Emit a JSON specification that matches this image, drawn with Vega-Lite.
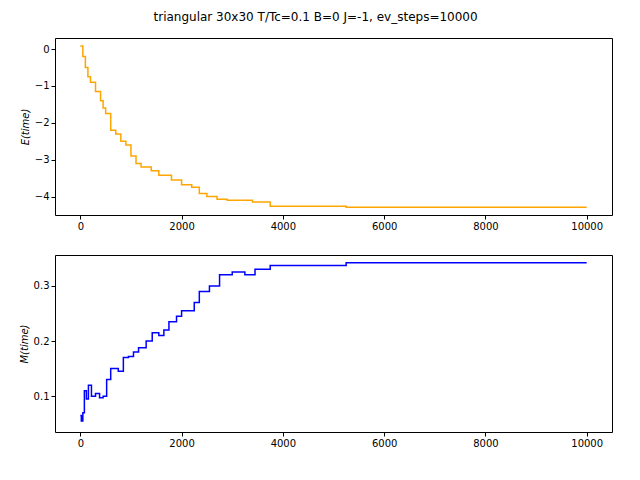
{
  "$schema": "https://vega.github.io/schema/vega-lite/v6.json",
  "padding": {"left": 18, "top": 10, "right": 5, "bottom": 5},
  "background": "white",
  "title": {"text": "triangular 30x30 T/Tc=0.1 B=0 J=-1, ev_steps=10000", "fontSize": 12, "font": "DejaVu Sans", "fontWeight": "normal", "anchor": "middle", "offset": 14},
  "config": {
    "font": "DejaVu Sans",
    "view": {"stroke": "black"},
    "axis": {"grid": false, "domain": false, "tickColor": "black", "labelColor": "black", "labelFontSize": 10, "titleFontSize": 10, "titleFontWeight": "normal", "titleFontStyle": "italic", "tickSize": 4}
  },
  "spacing": 22,
  "datasets": {
    "e": [
      {"t": 0, "E": 0.08}, {"t": 50, "E": -0.2}, {"t": 100, "E": -0.5}, {"t": 150, "E": -0.75}, {"t": 200, "E": -0.9},
      {"t": 300, "E": -1.15}, {"t": 400, "E": -1.4}, {"t": 450, "E": -1.6}, {"t": 500, "E": -1.75}, {"t": 600, "E": -2.2},
      {"t": 700, "E": -2.3}, {"t": 800, "E": -2.5}, {"t": 900, "E": -2.6}, {"t": 1000, "E": -2.9}, {"t": 1100, "E": -3.1},
      {"t": 1200, "E": -3.2}, {"t": 1400, "E": -3.3}, {"t": 1550, "E": -3.42}, {"t": 1800, "E": -3.55}, {"t": 2000, "E": -3.68},
      {"t": 2200, "E": -3.75}, {"t": 2350, "E": -3.92}, {"t": 2500, "E": -4.0}, {"t": 2700, "E": -4.07}, {"t": 2900, "E": -4.1},
      {"t": 3400, "E": -4.15}, {"t": 3750, "E": -4.26}, {"t": 5250, "E": -4.29}, {"t": 10000, "E": -4.29}
    ],
    "m": [
      {"t": 0, "M": 0.065}, {"t": 20, "M": 0.055}, {"t": 50, "M": 0.07}, {"t": 80, "M": 0.11}, {"t": 120, "M": 0.095},
      {"t": 160, "M": 0.12}, {"t": 220, "M": 0.1}, {"t": 300, "M": 0.105}, {"t": 380, "M": 0.097}, {"t": 450, "M": 0.1},
      {"t": 520, "M": 0.13}, {"t": 600, "M": 0.15}, {"t": 750, "M": 0.145}, {"t": 850, "M": 0.17}, {"t": 950, "M": 0.172},
      {"t": 1050, "M": 0.18}, {"t": 1150, "M": 0.188}, {"t": 1300, "M": 0.2}, {"t": 1420, "M": 0.215}, {"t": 1550, "M": 0.21},
      {"t": 1650, "M": 0.22}, {"t": 1750, "M": 0.235}, {"t": 1900, "M": 0.245}, {"t": 2000, "M": 0.255}, {"t": 2250, "M": 0.27},
      {"t": 2350, "M": 0.29}, {"t": 2550, "M": 0.3}, {"t": 2750, "M": 0.32}, {"t": 3000, "M": 0.325}, {"t": 3250, "M": 0.32},
      {"t": 3450, "M": 0.33}, {"t": 3750, "M": 0.337}, {"t": 5250, "M": 0.342}, {"t": 10000, "M": 0.342}
    ]
  },
  "vconcat": [
    {
      "width": 557, "height": 177,
      "data": {"name": "e"},
      "mark": {"type": "line", "color": "orange", "strokeWidth": 1.5, "interpolate": "step-after", "clip": true},
      "encoding": {
        "x": {"field": "t", "type": "quantitative", "title": null, "scale": {"domain": [-500, 10500], "nice": false, "zero": false}, "axis": {"values": [0, 2000, 4000, 6000, 8000, 10000], "format": "d"}},
        "y": {"field": "E", "type": "quantitative", "title": "E(time)", "scale": {"domain": [-4.5, 0.3], "nice": false, "zero": false}, "axis": {"values": [-4, -3, -2, -1, 0], "format": "d"}}
      }
    },
    {
      "width": 557, "height": 177,
      "data": {"name": "m"},
      "mark": {"type": "line", "color": "blue", "strokeWidth": 1.5, "interpolate": "step-after", "clip": true},
      "encoding": {
        "x": {"field": "t", "type": "quantitative", "title": null, "scale": {"domain": [-500, 10500], "nice": false, "zero": false}, "axis": {"values": [0, 2000, 4000, 6000, 8000, 10000], "format": "d"}},
        "y": {"field": "M", "type": "quantitative", "title": "M(time)", "scale": {"domain": [0.035, 0.356], "nice": false, "zero": false}, "axis": {"values": [0.1, 0.2, 0.3], "format": ".1f"}}
      }
    }
  ]
}
